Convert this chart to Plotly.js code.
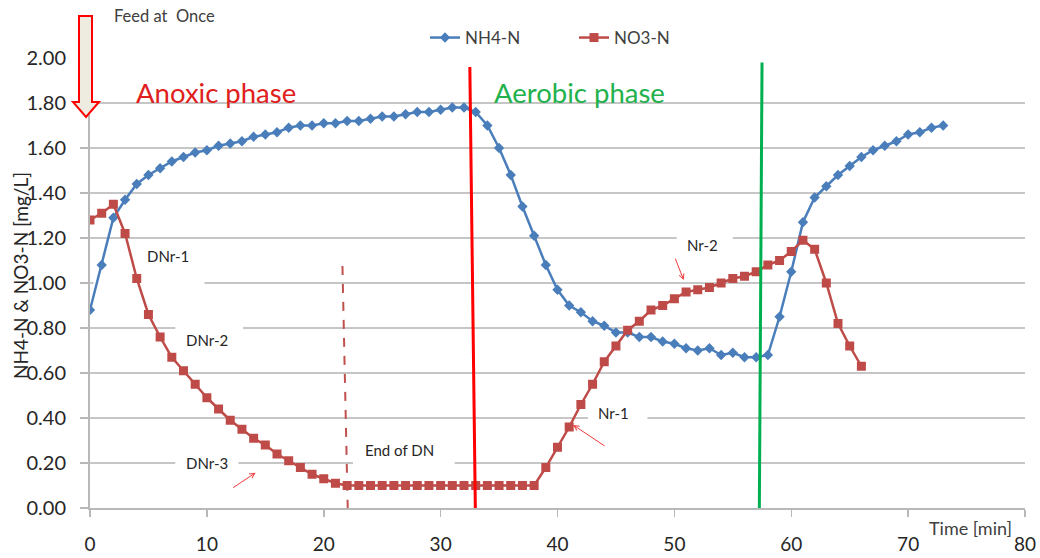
<!DOCTYPE html>
<html>
<head>
<meta charset="utf-8">
<script src="https://cdn.plot.ly/plotly-3.0.1.min.js"></script>
<style>html,body{margin:0;padding:0;background:#fff;}#chart{width:1040px;height:558px;}</style>
</head>
<body>
<div id="chart"></div>
<script>
// ---- data ----
const timeNH4 = [0,1,2,3,4,5,6,7,8,9,10,11,12,13,14,15,16,17,18,19,20,21,22,23,24,25,26,27,28,29,30,31,32,33,34,35,36,37,38,39,40,41,42,43,44,45,46,47,48,49,50,51,52,53,54,55,56,57,58,59,60,61,62,63,64,65,66,67,68,69,70,71,72,73];
const nh4 = [0.88,1.08,1.29,1.37,1.44,1.48,1.51,1.54,1.56,1.58,1.59,1.61,1.62,1.63,1.65,1.66,1.67,1.69,1.70,1.70,1.71,1.71,1.72,1.72,1.73,1.74,1.74,1.75,1.76,1.76,1.77,1.78,1.78,1.76,1.70,1.60,1.48,1.34,1.21,1.08,0.97,0.90,0.87,0.83,0.81,0.78,0.78,0.76,0.76,0.74,0.73,0.71,0.70,0.71,0.68,0.69,0.67,0.67,0.68,0.85,1.05,1.27,1.38,1.43,1.48,1.52,1.56,1.59,1.61,1.63,1.66,1.67,1.69,1.70];
const timeNO3 = [0,1,2,3,4,5,6,7,8,9,10,11,12,13,14,15,16,17,18,19,20,21,22,23,24,25,26,27,28,29,30,31,32,33,34,35,36,37,38,39,40,41,42,43,44,45,46,47,48,49,50,51,52,53,54,55,56,57,58,59,60,61,62,63,64,65,66];
const no3 = [1.28,1.31,1.35,1.22,1.02,0.86,0.76,0.67,0.61,0.55,0.49,0.44,0.39,0.35,0.31,0.28,0.24,0.21,0.18,0.15,0.13,0.11,0.10,0.10,0.10,0.10,0.10,0.10,0.10,0.10,0.10,0.10,0.10,0.10,0.10,0.10,0.10,0.10,0.10,0.18,0.27,0.36,0.46,0.55,0.65,0.72,0.79,0.83,0.88,0.90,0.93,0.96,0.97,0.98,1.00,1.02,1.03,1.05,1.08,1.10,1.14,1.19,1.15,1.00,0.82,0.72,0.63];
const seriesNames = ["NH4-N", "NO3-N"];
const xTicks = [0,10,20,30,40,50,60,70,80];
const yTicks = [0,0.2,0.4,0.6,0.8,1.0,1.2,1.4,1.6,1.8,2.0];
const yTickText = ["0.00","0.20","0.40","0.60","0.80","1.00","1.20","1.40","1.60","1.80","2.00"];

const FONT = "Lato, 'Open Sans', sans-serif";
const BLUE = "#4a7ebb", RED = "#be4b48";

const traces = [
  {x: timeNH4, y: nh4, name: seriesNames[0], type: "scatter", mode: "lines+markers",
   line: {color: BLUE, width: 2.5}, marker: {symbol: "diamond", size: 8, color: BLUE}},
  {x: timeNO3, y: no3, name: seriesNames[1], type: "scatter", mode: "lines+markers",
   line: {color: RED, width: 2.5}, marker: {symbol: "square", size: 9, color: RED}}
];

// pixel helpers for paper coordinates (plot area 90..1025 x 58..508)
const px = v => (v - 90) / 935;
const py = v => (508 - v) / 450;

const arrowPath = "M" + px(79) + "," + py(16) + " L" + px(92) + "," + py(16) + " L" + px(92) + "," + py(102) +
  " L" + px(99) + "," + py(102) + " L" + px(86) + "," + py(117) + " L" + px(73) + "," + py(102) +
  " L" + px(79) + "," + py(102) + " Z";

const whiteBox = (x0, x1, y0, y1) => ({type: "rect", xref: "x", yref: "y", x0, x1, y0, y1,
  fillcolor: "#ffffff", line: {width: 0}, layer: "between"});

const shapes = [
  whiteBox(0.3, 9.8, 0.95, 1.17),
  whiteBox(7.3, 13.1, 0.66, 0.85),
  whiteBox(7.3, 12.7, 0.15, 0.25),
  whiteBox(22.5, 31.2, 0.16, 0.34),
  whiteBox(42.6, 47.7, 0.34, 0.50),
  whiteBox(50.2, 55.0, 1.10, 1.26),
  {type: "line", xref: "x", yref: "y", x0: 21.6, y0: 1.076, x1: 22.05, y1: 0,
   line: {color: "#c0504d", width: 2, dash: "dash"}},
  {type: "line", xref: "x", yref: "y", x0: 32.5, y0: 1.96, x1: 32.97, y1: 0,
   line: {color: "#ff0000", width: 3}},
  {type: "line", xref: "x", yref: "y", x0: 57.5, y0: 1.98, x1: 57.27, y1: 0,
   line: {color: "#00b050", width: 3}},
  {type: "path", xref: "paper", yref: "paper", path: arrowPath,
   fillcolor: "#eeece1", line: {color: "#ff0000", width: 2}, layer: "above"}
];

const lbl = (text, x, y) => ({text, x, y, xref: "x", yref: "y", showarrow: false,
  font: {family: FONT, size: 15, color: "#262626"}});
const arrow = (x, y, ax, ay) => ({text: "", x, y, xref: "x", yref: "y", ax, ay, axref: "pixel", ayref: "pixel",
  showarrow: true, arrowhead: 5, arrowsize: 1, arrowwidth: 1, arrowcolor: "#f03c3c"});

const annotations = [
  {text: "Feed at  Once", xref: "paper", yref: "paper", x: px(112), y: py(16), xanchor: "left", yanchor: "middle",
   showarrow: false, font: {family: FONT, size: 16.5, color: "#404040"}},
  {text: "Anoxic phase", xref: "paper", yref: "paper", x: px(134), y: py(92), xanchor: "left", yanchor: "middle",
   showarrow: false, font: {family: FONT, size: 27.5, color: "#e0201c"}},
  {text: "Aerobic phase", xref: "paper", yref: "paper", x: px(492), y: py(93), xanchor: "left", yanchor: "middle",
   showarrow: false, font: {family: FONT, size: 27.5, color: "#22b14c"}},
  lbl("DNr-1", 6.7, 1.12),
  lbl("DNr-2", 10.0, 0.747),
  lbl("DNr-3", 10.0, 0.201),
  lbl("End of DN", 26.5, 0.258),
  lbl("Nr-1", 44.8, 0.421),
  lbl("Nr-2", 52.4, 1.169),
  arrow(14.17, 0.157, -24, 16),
  arrow(50.8, 1.013, -9, -23),
  arrow(41.34, 0.369, 33, 22),
  {text: "Time [min]", xref: "paper", yref: "paper", x: px(1014), y: py(528), xanchor: "right", yanchor: "middle",
   showarrow: false, font: {family: FONT, size: 18, color: "#404040"}},
  {text: "NH4-N &amp; NO3-N [mg/L]", xref: "paper", yref: "paper", x: px(20), y: py(276), xanchor: "center", yanchor: "middle",
   textangle: -90, showarrow: false, font: {family: FONT, size: 19, color: "#262626"}}
];

const layout = {
  width: 1040, height: 558,
  margin: {l: 90, r: 15, t: 58, b: 50, pad: 0},
  paper_bgcolor: "#ffffff", plot_bgcolor: "#ffffff",
  font: {family: FONT, color: "#404040"},
  showlegend: true,
  legend: {orientation: "h", x: px(425), xanchor: "left", y: py(38), yanchor: "middle",
           font: {family: FONT, size: 17, color: "#404040"}, bgcolor: "rgba(0,0,0,0)", itemwidth: 30,
           entrywidth: 104, entrywidthmode: "pixels"},
  xaxis: {range: [0, 80], tickvals: xTicks, ticktext: xTicks.map(String), showgrid: false, zeroline: false,
          showline: true, linecolor: "#b8b8b8", linewidth: 2, ticks: "outside", ticklen: 7, tickcolor: "#b8b8b8", tickwidth: 1.5,
          tickfont: {family: FONT, size: 19, color: "#262626"}, ticklabelstandoff: 11, fixedrange: true},
  yaxis: {range: [0, 2], tickvals: yTicks, ticktext: yTickText, showgrid: true, gridcolor: "#c6c6c6", gridwidth: 2,
          zeroline: false, showline: true, linecolor: "#b8b8b8", linewidth: 2, ticks: "outside", ticklen: 8,
          tickcolor: "#b8b8b8", tickwidth: 1.5, tickfont: {family: FONT, size: 20, color: "#262626"},
          ticklabelstandoff: 10, fixedrange: true},
  shapes, annotations
};

Plotly.newPlot("chart", traces, layout, {displayModeBar: false, staticPlot: true});
</script>
</body>
</html>
